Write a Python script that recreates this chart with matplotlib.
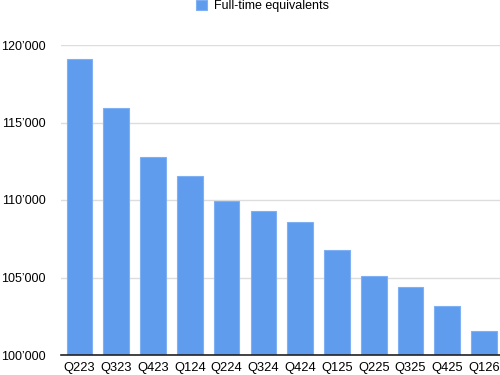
import matplotlib
matplotlib.use("Agg")
import matplotlib.pyplot as plt
import numpy as np

# ── Data ──────────────────────────────────────────────────────────────────────
quarters = ["Q223", "Q323", "Q423", "Q124", "Q224", "Q324",
            "Q424", "Q125", "Q225", "Q325", "Q425", "Q126"]
fte = [119080, 115920, 112790, 111530, 109960, 109310,
       108600, 106750, 105100, 104390, 103140, 101530]
y_ticks = [100000, 105000, 110000, 115000, 120000]

plt.rcParams["font.family"] = ["Liberation Sans", "DejaVu Sans"]

fig = plt.figure(figsize=(5, 3.75), dpi=100)
ax = fig.add_axes([61 / 500, 20 / 375, 439 / 500, 310 / 375])

x = np.arange(len(quarters))
ax.bar(x, fte, width=0.7, bottom=0, color="#5f9cee", edgecolor="#7fb0f3",
       linewidth=0.8, label="Full-time equivalents", zorder=2)

ax.set_ylim(100000, 120000)
ax.set_xlim(-0.5, 11.43)
ax.set_yticks(y_ticks)
ax.set_yticklabels([f"{v // 1000}\u2019000" for v in y_ticks], fontsize=9)
ax.set_xticks(x)
ax.set_xticklabels(quarters, fontsize=9.3)
ax.tick_params(axis="x", length=0, pad=5)
ax.tick_params(axis="y", length=0, pad=11)

ax.grid(axis="y", color="#dddddd", linewidth=1, zorder=0)
for s in ["top", "right", "left"]:
    ax.spines[s].set_visible(False)
ax.spines["bottom"].set_color("#222222")
ax.spines["bottom"].set_linewidth(1.2)
ax.spines["bottom"].set_zorder(3)

fig.legend(loc="upper center", bbox_to_anchor=(0.525, 1.03), frameon=False,
           fontsize=9, handlelength=0.9, handleheight=0.9, handletextpad=0.6)

fig.savefig("out.png", dpi=100)
